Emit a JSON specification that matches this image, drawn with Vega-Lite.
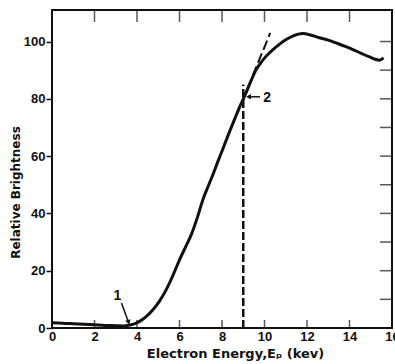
{
  "$schema": "https://vega.github.io/schema/vega-lite/v6.json",
  "width": 340,
  "height": 318,
  "autosize": "none",
  "padding": {"left": 52, "top": 10, "right": 3, "bottom": 36},
  "background": "white",
  "config": {
    "view": {"stroke": "#111", "strokeWidth": 2},
    "font": "Liberation Sans",
    "axis": {
      "grid": false,
      "domain": false,
      "tickColor": "#111",
      "tickWidth": 1.5,
      "labelColor": "#111",
      "titleColor": "#111",
      "labelFont": "Liberation Sans",
      "labelFontWeight": "bold",
      "labelFontSize": 13,
      "labelOverlap": false,
      "titleFont": "DejaVu Sans",
      "titleFontWeight": "bold"
    }
  },
  "datasets": {
    "curve": [
      {"x": 0.0, "y": 1.8}, {"x": 0.5, "y": 1.7}, {"x": 1.0, "y": 1.5}, {"x": 1.5, "y": 1.3},
      {"x": 2.0, "y": 1.1}, {"x": 2.5, "y": 0.9}, {"x": 3.0, "y": 0.8}, {"x": 3.4, "y": 0.7},
      {"x": 3.65, "y": 1.0}, {"x": 3.9, "y": 1.5}, {"x": 4.12, "y": 2.3}, {"x": 4.4, "y": 3.8},
      {"x": 4.74, "y": 6.3}, {"x": 5.05, "y": 9.3}, {"x": 5.37, "y": 13.3}, {"x": 5.7, "y": 18.5},
      {"x": 6.0, "y": 23.8}, {"x": 6.3, "y": 28.5}, {"x": 6.55, "y": 32.5}, {"x": 6.85, "y": 38.8},
      {"x": 7.1, "y": 44.8}, {"x": 7.35, "y": 49.5}, {"x": 7.57, "y": 53.5}, {"x": 7.8, "y": 58.0},
      {"x": 8.04, "y": 62.5}, {"x": 8.3, "y": 67.5}, {"x": 8.6, "y": 73.0}, {"x": 8.85, "y": 77.5},
      {"x": 9.06, "y": 80.9}, {"x": 9.35, "y": 86.0}, {"x": 9.61, "y": 90.2}, {"x": 9.85, "y": 92.8},
      {"x": 10.08, "y": 94.9}, {"x": 10.4, "y": 97.2}, {"x": 10.7, "y": 99.0}, {"x": 11.0, "y": 100.6},
      {"x": 11.33, "y": 101.9}, {"x": 11.8, "y": 102.8}, {"x": 12.2, "y": 102.2}, {"x": 12.59, "y": 101.3},
      {"x": 13.0, "y": 100.5}, {"x": 13.37, "y": 99.5}, {"x": 13.8, "y": 98.3}, {"x": 14.16, "y": 97.2},
      {"x": 14.55, "y": 95.9}, {"x": 14.94, "y": 94.6}, {"x": 15.2, "y": 93.8}, {"x": 15.41, "y": 93.5},
      {"x": 15.6, "y": 94.3}
    ],
    "tangent": [{"x": 8.7, "y": 74.5}, {"x": 10.27, "y": 103.0}],
    "vline": [{"x": 9.0, "y": 0}, {"x": 9.0, "y": 85}],
    "labels": [{"x": 3.08, "y": 11.2, "label": "1"}, {"x": 10.13, "y": 80.3, "label": "2"}],
    "arrows": [
      {"x": 3.27, "y": 8.7, "x2": 3.62, "y2": 1.6},
      {"x": 9.79, "y": 80.7, "x2": 9.3, "y2": 80.7}
    ],
    "heads": [
      {"x": 3.6, "y": 2.0, "shape": "triangle-down", "angle": -14},
      {"x": 9.25, "y": 80.7, "shape": "triangle-left", "angle": 0}
    ],
    "xticks": [{"v": 2}, {"v": 4}, {"v": 6}, {"v": 8}, {"v": 10}, {"v": 12}, {"v": 14}],
    "yticks": [{"v": 10}, {"v": 20}, {"v": 30}, {"v": 40}, {"v": 50}, {"v": 60}, {"v": 70}, {"v": 80}, {"v": 90}, {"v": 100}]
  },
  "layer": [
    {
      "data": {"name": "curve"},
      "mark": {"type": "line", "color": "#111", "strokeWidth": 3, "interpolate": "monotone"},
      "encoding": {
        "x": {"field": "x", "type": "quantitative", "scale": {"domain": [0, 16], "nice": false},
          "axis": {"orient": "bottom", "values": [0, 2, 4, 6, 8, 10, 12, 14, 16], "ticks": false, "labelPadding": 2, "labelFlush": false, "title": "Electron Energy,Eₚ (kev)", "titleFontSize": 13, "titlePadding": 4, "titleX": 183}},
        "y": {"field": "y", "type": "quantitative", "scale": {"domain": [0, 111], "nice": false},
          "axis": {"orient": "left", "values": [0, 10, 20, 30, 40, 50, 60, 70, 80, 90, 100], "tickSize": 6, "labelPadding": 1, "labelFlush": false, "title": "Relative Brightness", "titleFontSize": 12, "titlePadding": 1, "titleY": 182}}
      }
    },
    {
      "data": {"name": "xticks"},
      "mark": {"type": "tick", "orient": "vertical", "color": "#111", "size": 8, "thickness": 1.5, "yOffset": -4},
      "encoding": {
        "x": {"field": "v", "type": "quantitative"},
        "y": {"datum": 0, "type": "quantitative"}
      }
    },
    {
      "data": {"name": "xticks"},
      "mark": {"type": "tick", "orient": "vertical", "color": "#111", "size": 12, "thickness": 1.5, "yOffset": 6},
      "encoding": {
        "x": {"field": "v", "type": "quantitative"},
        "y": {"datum": 111, "type": "quantitative"}
      }
    },
    {
      "data": {"name": "yticks"},
      "mark": {"type": "tick", "orient": "horizontal", "color": "#111", "size": 12, "thickness": 1.5, "xOffset": -6},
      "encoding": {
        "x": {"datum": 16, "type": "quantitative"},
        "y": {"field": "v", "type": "quantitative"}
      }
    },
    {
      "data": {"name": "vline"},
      "mark": {"type": "line", "color": "#111", "strokeWidth": 2.5, "strokeDash": [8, 3]},
      "encoding": {
        "x": {"field": "x", "type": "quantitative"},
        "y": {"field": "y", "type": "quantitative"}
      }
    },
    {
      "data": {"name": "tangent"},
      "mark": {"type": "line", "color": "#111", "strokeWidth": 2, "strokeDash": [10, 4]},
      "encoding": {
        "x": {"field": "x", "type": "quantitative"},
        "y": {"field": "y", "type": "quantitative"}
      }
    },
    {
      "data": {"name": "arrows"},
      "mark": {"type": "rule", "color": "#111", "strokeWidth": 1.5},
      "encoding": {
        "x": {"field": "x", "type": "quantitative"},
        "y": {"field": "y", "type": "quantitative"},
        "x2": {"field": "x2"},
        "y2": {"field": "y2"}
      }
    },
    {
      "data": {"name": "heads"},
      "mark": {"type": "point", "filled": true, "color": "#111", "size": 30, "opacity": 1},
      "encoding": {
        "x": {"field": "x", "type": "quantitative"},
        "y": {"field": "y", "type": "quantitative"},
        "shape": {"field": "shape", "type": "nominal", "scale": null},
        "angle": {"field": "angle", "type": "quantitative", "scale": null}
      }
    },
    {
      "data": {"name": "labels"},
      "mark": {"type": "text", "color": "#111", "font": "Liberation Sans", "fontWeight": "bold", "fontSize": 14, "align": "center", "baseline": "middle"},
      "encoding": {
        "x": {"field": "x", "type": "quantitative"},
        "y": {"field": "y", "type": "quantitative"},
        "text": {"field": "label"}
      }
    }
  ]
}
